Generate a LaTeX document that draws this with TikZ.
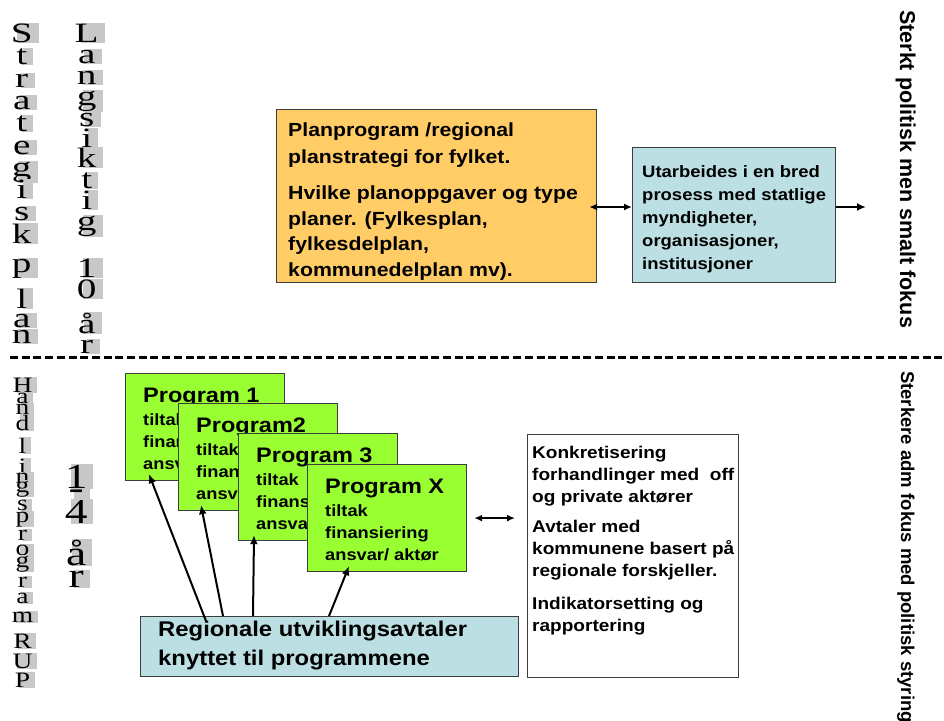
\documentclass[tikz,border=0pt]{standalone}
\usepackage{graphicx}
\usepackage{fontspec}
\setmainfont{Liberation Serif}
\newfontfamily\arialfont{Liberation Sans}
\usetikzlibrary{arrows.meta}
\definecolor{orangefill}{RGB}{255,204,102}
\definecolor{bluefill}{RGB}{187,223,227}
\definecolor{greenfill}{RGB}{153,255,51}
\definecolor{lgray}{RGB}{200,200,200}
\definecolor{edge}{RGB}{60,60,60}
\newcommand\sansf[1]{\fontsize{#1}{#1}\selectfont\arialfont\bfseries}
\newcommand\wide[1]{\scalebox{1.12}[1]{#1}}
\newcommand\vglyph[3]{\scalebox{#1}[1]{\rlap{\kern-#2pt #3}\phantom{#3}}}
\newcommand\progbox[4]{%
  \node[box, fill=greenfill, minimum width=159, minimum height=107] (#1) at (#2,#3) {};
  \node[tx, font=\sansf{21}] (#1t) at ([shift={(18,29)}]#1.north west) {\wide{#4}};
  \node[tx, font=\sansf{16.3}] (#1a) at ([shift={(18,52)}]#1.north west) {\wide{tiltak}};
  \node[tx, font=\sansf{16.3}] (#1b) at ([shift={(18,74)}]#1.north west) {\wide{finansiering}};
  \node[tx, font=\sansf{16.3}] (#1c) at ([shift={(18,96)}]#1.north west) {\wide{ansvar/ aktør}};
}
\begin{document}
\begin{tikzpicture}[x=1pt,y=-1pt,
  box/.style={draw=edge, line width=1.2pt, inner sep=0pt, anchor=north west},
  tx/.style={anchor=base west, inner sep=0pt},
  vch/.style={anchor=base, inner xsep=0pt, inner ysep=0.5pt, fill=lgray},
  arr/.style={line width=2pt, -{Latex[length=9pt,width=8pt]}},
  darr/.style={line width=2pt, {Latex[length=8pt,width=7pt]}-{Latex[length=8pt,width=7pt]}},
]
\useasboundingbox (0,0) rectangle (944,720);

% ---- vertical letter columns
\foreach \c/\y [count=\i] in {S/42,t/64,r/87,a/109,t/131,e/154,g/176,i/198,s/220,k/243,p/272,l/308,a/327,n/343}
  \node[vch, font={\fontsize{28}{28}\selectfont}] (sp\i) at (28,\y) {\vglyph{1.4}{4.5}{\c}};
\foreach \c/\y [count=\i] in {L/42,a/63,n/84,g/105,s/126,i/147,k/167,t/188,i/209,g/230,1/277,0/298,å/333,r/353}
  \node[vch, font={\fontsize{28}{28}\selectfont}] (ls\i) at (93,\y) {\vglyph{1.4}{4.5}{\c}};
\foreach \c/\y [count=\i] in {H/392,a/403,n/414,d/430,l/453,i/473,n/483,g/492,s/510,p/522,r/540,o/555,g/567,r/587,a/603,m/622,R/648,U/668,P/687}
  \node[vch, font={\fontsize{22}{22}\selectfont}] (hp\i) at (27,\y) {\vglyph{1.25}{3.6}{\c}};
\foreach \c/\y [count=\i] in {1/488,-/499,4/523,å/565,r/587}
  \node[vch, font={\fontsize{35}{35}\selectfont}] (fa\i) at (82,\y) {\vglyph{1.3}{4.5}{\c}};

% ---- divider
\coordinate (divL) at (10,357);
\coordinate (divR) at (944,357);
\draw[line width=3pt, dash pattern=on 8pt off 3.7pt] (divL) -- (divR);

% ---- right side rotated labels
\node[tx, rotate=-90, font=\sansf{21.5}] (rt1) at (900,10) {Sterkt politisk men smalt fokus};
\node[tx, rotate=-90, font=\sansf{18.5}] (rt2) at (901,371) {Sterkere adm fokus med politisk styring};

% ---- top boxes
\node[box, fill=orangefill, minimum width=320, minimum height=173] (plan) at (276,109) {};
\node[tx, font=\sansf{19}] (pl1) at (288,136) {\wide{Planprogram /regional}};
\node[tx, font=\sansf{19}] (pl2) at (288,163) {\wide{planstrategi for fylket.}};
\node[tx, font=\sansf{19}] (pl3) at (288,199) {\wide{Hvilke planoppgaver og type}};
\node[tx, font=\sansf{19}] (pl4) at (288,225) {\wide{planer. (Fylkesplan,}};
\node[tx, font=\sansf{19}] (pl5) at (288,250) {\wide{fylkesdelplan,}};
\node[tx, font=\sansf{19}] (pl6) at (288,276) {\wide{kommunedelplan mv).}};

\node[box, fill=bluefill, minimum width=203, minimum height=135] (utarb) at (632,147) {};
\node[tx, font=\sansf{16.5}] (ut1) at (642,177) {\wide{Utarbeides i en bred}};
\node[tx, font=\sansf{16.5}] (ut2) at (642,200) {\wide{prosess med statlige}};
\node[tx, font=\sansf{16.5}] (ut3) at (642,223) {\wide{myndigheter,}};
\node[tx, font=\sansf{16.5}] (ut4) at (642,246) {\wide{organisasjoner,}};
\node[tx, font=\sansf{16.5}] (ut5) at (642,269) {\wide{institusjoner}};

\coordinate (arry) at (0,207);
\coordinate (outR) at (866,207);
\draw[darr, shorten <=-8pt] (plan.east |- arry) -- (utarb.west |- arry);
\draw[arr] (utarb.east |- arry) -- (outR);

% ---- programme boxes
\progbox{p1}{125}{373}{Program 1}
\progbox{p2}{178}{403}{Program2}
\progbox{p3}{238}{433}{Program 3}
\progbox{px}{307}{464}{Program X}

% ---- right box
\node[box, fill=white, minimum width=211, minimum height=243] (konk) at (527,434) {};
\node[tx, font=\sansf{17}] (k1) at (532,458) {\wide{Konkretisering}};
\node[tx, font=\sansf{17}] (k2) at (532,480) {\wide{forhandlinger med\ \ off}};
\node[tx, font=\sansf{17}] (k3) at (532,502) {\wide{og private aktører}};
\node[tx, font=\sansf{17}] (k4) at (532,532) {\wide{Avtaler med}};
\node[tx, font=\sansf{17}] (k5) at (532,554) {\wide{kommunene basert på}};
\node[tx, font=\sansf{17}] (k6) at (532,576) {\wide{regionale forskjeller.}};
\node[tx, font=\sansf{17}] (k7) at (532,609) {\wide{Indikatorsetting og}};
\node[tx, font=\sansf{17}] (k8) at (532,631) {\wide{rapportering}};

\draw[darr, shorten <=7pt, shorten >=12pt] (px.east) -- (konk.west |- px.east);

% ---- bottom box
\node[box, fill=bluefill, minimum width=378, minimum height=60] (reg) at (140,616) {};
\node[tx, font=\sansf{21.3}] (rg1) at (158,636) {\wide{Regionale utviklingsavtaler}};
\node[tx, font=\sansf{21.3}] (rg2) at (158,665) {\wide{knyttet til programmene}};

% ---- arrows to programmes
\draw[arr] ([shift={(66,5)}]reg.north west) -- ([shift={(24,-7)}]p1.south west);
\draw[arr] ([shift={(83,0)}]reg.north west) -- ([shift={(23,-6)}]p2.south west);
\draw[arr] ([shift={(113,0)}]reg.north west) -- ([shift={(16,-6)}]p3.south west);
\draw[arr] ([shift={(189,0)}]reg.north west) -- ([shift={(42,-6)}]px.south west);
\end{tikzpicture}
\end{document}
